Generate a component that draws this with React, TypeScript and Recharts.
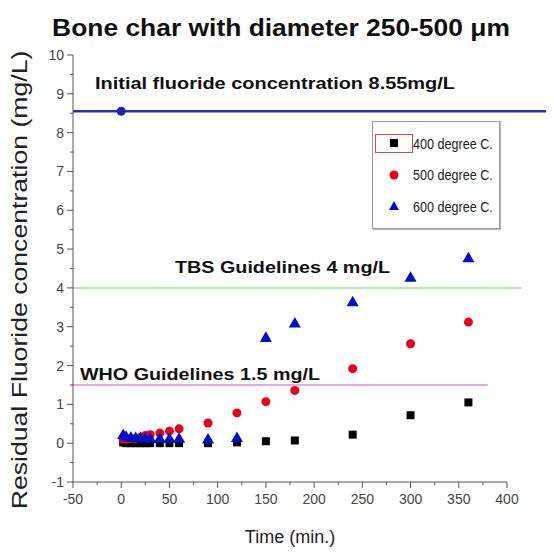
import {
  ScatterChart,
  Scatter,
  XAxis,
  YAxis,
  ZAxis,
  ReferenceLine,
  Legend,
} from 'recharts';

// =============================================================================
// Data
// =============================================================================

const TIME = [2, 5, 10, 15, 20, 25, 30, 40, 50, 60, 90, 120, 150, 180, 240, 300, 360];
const RESIDUAL_400 = [0.02, 0.0, 0.0, 0.0, 0.0, 0.0, 0.0, 0.0, 0.0, 0.0, 0.0, 0.02, 0.05, 0.07, 0.22, 0.72, 1.05];
const RESIDUAL_500 = [0.1, 0.1, 0.12, 0.12, 0.15, 0.2, 0.22, 0.26, 0.31, 0.37, 0.52, 0.78, 1.07, 1.36, 1.92, 2.56, 3.12];
const RESIDUAL_600 = [0.2, 0.15, 0.13, 0.12, 0.12, 0.1, 0.1, 0.1, 0.1, 0.1, 0.08, 0.12, 2.7, 3.07, 3.62, 4.25, 4.75];

const INITIAL_TIME = [0];
const INITIAL_VALUE = [8.55];

const X_TICKS = [-50, -25, 0, 25, 50, 75, 100, 125, 150, 175, 200, 225, 250, 275, 300, 325, 350, 375, 400];
const Y_TICKS = [-1, -0.5, 0, 0.5, 1, 1.5, 2, 2.5, 3, 3.5, 4, 4.5, 5, 5.5, 6, 6.5, 7, 7.5, 8, 8.5, 9, 9.5, 10];

const LEGEND_ITEMS = [
  { label: '400 degree C.', shape: 'square', color: '#000000' },
  { label: '500 degree C.', shape: 'circle', color: '#e8001c' },
  { label: '600 degree C.', shape: 'triangle', color: '#0010c8' },
];

// =============================================================================
// Helpers
// =============================================================================

const FONT = '"Liberation Sans", Arial, sans-serif';

function toPoints(xs: number[], ys: number[]) {
  return xs.map((x, i) => ({ time: x, value: ys[i] }));
}

const data400 = toPoints(TIME, RESIDUAL_400);
const data500 = toPoints(TIME, RESIDUAL_500);
const data600 = toPoints(TIME, RESIDUAL_600);
const initialData = toPoints(INITIAL_TIME, INITIAL_VALUE);

function XTick({ x, y, payload }: any) {
  const major = payload.value % 50 === 0;
  return (
    <g>
      <line x1={x} x2={x} y1={y} y2={y + (major ? 6 : 3)} stroke="#555" />
      {major && (
        <text x={x} y={y + 17} textAnchor="middle" dominantBaseline="central" fontSize={14} fill="#444" fontFamily={FONT}>
          {payload.value}
        </text>
      )}
    </g>
  );
}

function YTick({ x, y, payload }: any) {
  const major = Number.isInteger(payload.value);
  return (
    <g>
      <line x1={x - (major ? 6 : 3)} x2={x} y1={y} y2={y} stroke="#555" />
      {major && (
        <text x={x - 9} y={y} textAnchor="end" dominantBaseline="central" fontSize={14} fill="#444" fontFamily={FONT}>
          {payload.value}
        </text>
      )}
    </g>
  );
}

// label sitting above a reference line, stretched to the width seen in the figure
function lineLabel(text: string, dx: number, dy: number, width: number) {
  return ({ viewBox }: any) => (
    <text
      x={viewBox.x + dx}
      y={viewBox.y - dy}
      dominantBaseline="central"
      fontSize={17}
      fontWeight="bold"
      fill="#111"
      fontFamily={FONT}
      textLength={width}
      lengthAdjust="spacingAndGlyphs"
    >
      {text}
    </text>
  );
}

function LegendSymbol({ shape, color }: { shape: string; color: string }) {
  return (
    <svg width={12} height={12} style={{ display: 'block' }}>
      {shape === 'square' && <rect x={2} y={2} width={8} height={8} fill={color} />}
      {shape === 'circle' && <circle cx={6} cy={6} r={4.5} fill={color} />}
      {shape === 'triangle' && <polygon points="6,1 11,10 1,10" fill={color} />}
    </svg>
  );
}

function renderLegend() {
  return (
    <div
      style={{
        position: 'relative',
        width: 126,
        height: 106,
        border: '1px solid #999',
        boxShadow: '1px 1px 1px #bbb',
        background: '#fff',
        fontFamily: FONT,
        fontSize: 15,
        color: '#222',
      }}
    >
      <div
        style={{
          position: 'absolute',
          left: 2,
          top: 12,
          width: 36,
          height: 17,
          border: '1px solid #e04848',
        }}
      />
      {LEGEND_ITEMS.map((item, i) => (
        <div
          key={item.label}
          style={{
            position: 'absolute',
            left: 0,
            top: 5 + i * 31.5,
            height: 32,
            display: 'flex',
            alignItems: 'center',
            whiteSpace: 'nowrap',
          }}
        >
          <div style={{ width: 38, display: 'flex', justifyContent: 'center', marginLeft: 2 }}>
            <LegendSymbol shape={item.shape} color={item.color} />
          </div>
          <span style={{ display: 'inline-block', transform: 'scaleX(0.84)', transformOrigin: 'left center' }}>
            {item.label}
          </span>
        </div>
      ))}
    </div>
  );
}

// =============================================================================
// Component
// =============================================================================

export default function App() {
  return (
    <div style={{ position: 'relative', width: 546, height: 547, fontFamily: FONT }}>
      <div
        style={{
          position: 'absolute',
          top: 6,
          left: 0,
          width: 546,
          textAlign: 'center',
          fontSize: 24,
          fontWeight: 'bold',
          lineHeight: '28px',
          color: '#111',
          transform: 'scaleX(1.1)',
        }}
      >
        Bone char with diameter 250-500 μm
      </div>

      <ScatterChart width={546} height={547} margin={{ top: 47, right: 47, bottom: 43, left: 25 }}>
        <XAxis
          type="number"
          dataKey="time"
          domain={[-50, 400]}
          ticks={X_TICKS}
          interval={0}
          height={30}
          stroke="#555"
          tickLine={false}
          tickSize={0}
          tickMargin={0}
          tick={<XTick />}
        />
        <YAxis
          type="number"
          dataKey="value"
          domain={[-1, 10]}
          ticks={Y_TICKS}
          interval={0}
          width={40}
          stroke="#555"
          tickLine={false}
          tickSize={0}
          tickMargin={0}
          tick={<YTick />}
        />
        <ZAxis range={[70, 70]} />

        <ReferenceLine
          segment={[{ x: -50, y: 8.55 }, { x: 448, y: 8.55 }]}
          stroke="#2a2ac0"
          strokeWidth={2.5}
          ifOverflow="visible"
          label={lineLabel('Initial fluoride concentration 8.55mg/L', 22, 28, 360)}
        />
        <ReferenceLine
          segment={[{ x: -50, y: 4 }, { x: 415, y: 4 }]}
          stroke="#98e698"
          strokeWidth={1.5}
          ifOverflow="visible"
          label={lineLabel('TBS Guidelines 4 mg/L', 102, 20, 215)}
        />
        <ReferenceLine
          segment={[{ x: -50, y: 1.5 }, { x: 380, y: 1.5 }]}
          stroke="#e68ae6"
          strokeWidth={1.5}
          ifOverflow="visible"
          label={lineLabel('WHO Guidelines 1.5 mg/L', 7, 10, 240)}
        />

        <Scatter data={initialData} fill="#2020b0" shape="circle" isAnimationActive={false} />
        <Scatter data={data400} fill="#000000" shape="square" isAnimationActive={false} />
        <Scatter data={data500} fill="#e8001c" shape="circle" isAnimationActive={false} />
        <Scatter data={data600} fill="#0010c8" shape="triangle" isAnimationActive={false} />

        <Legend
          layout="vertical"
          align="center"
          verticalAlign="middle"
          content={renderLegend}
          wrapperStyle={{ position: 'absolute', left: 364, top: 113, width: 128, height: 108 }}
        />
      </ScatterChart>

      <div
        style={{
          position: 'absolute',
          top: 517,
          left: 182,
          width: 200,
          textAlign: 'center',
          fontSize: 18,
          lineHeight: '24px',
          color: '#222',
        }}
      >
        Time (min.)
      </div>

      <div
        style={{
          position: 'absolute',
          left: 12,
          top: 272,
          transform: 'translate(-50%, -50%) rotate(-90deg) scaleX(1.21)',
          whiteSpace: 'nowrap',
          fontSize: 22,
          lineHeight: '24px',
          color: '#222',
        }}
      >
        Residual Fluoride concentration (mg/L)
      </div>
    </div>
  );
}
